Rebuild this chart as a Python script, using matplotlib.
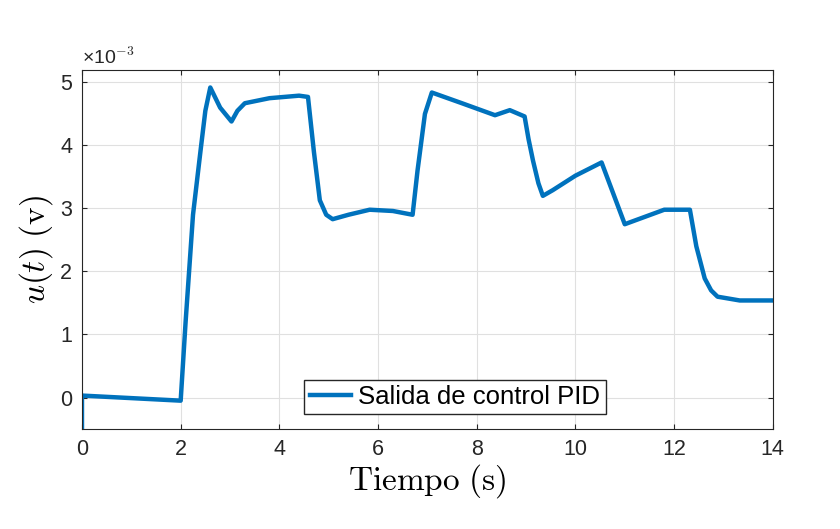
import matplotlib
matplotlib.use("Agg")
import matplotlib.pyplot as plt

t = [0, 0, 0.02, 2.0, 2.1, 2.25, 2.4, 2.5, 2.6, 2.8, 3.03, 3.15, 3.3, 3.8, 4.4, 4.58, 4.7, 4.82, 4.95, 5.08, 5.4, 5.83, 6.3, 6.7,
     6.8, 6.95, 7.09, 7.7, 8.37, 8.67, 8.97, 9.05, 9.14, 9.25, 9.34, 9.54, 10.0, 10.53, 11.0, 11.8, 12.32, 12.45, 12.62, 12.75, 12.88, 13.33, 14.0]
u = [-0.5, 0.03, 0.03, -0.05, 1.2, 2.9, 3.9, 4.55, 4.92, 4.6, 4.38, 4.55, 4.67, 4.75, 4.79, 4.77, 3.9, 3.13, 2.9, 2.83, 2.9, 2.98, 2.96, 2.9,
     3.6, 4.5, 4.84, 4.67, 4.48, 4.56, 4.46, 4.1, 3.76, 3.4, 3.2, 3.29, 3.52, 3.73, 2.75, 2.98, 2.98, 2.4, 1.89, 1.7, 1.6, 1.54, 1.54]

plt.rcParams['font.family'] = 'Liberation Sans'
plt.rcParams['mathtext.fontset'] = 'cm'
fig = plt.figure(figsize=(8.4, 5.29), dpi=100)
ax = fig.add_axes([0.0976, 0.189, 0.8224, 0.679])
ax.plot(t, u, color='#0072BD', lw=3.2, label='Salida de control PID', solid_joinstyle='round')
ax.set_xlim(0, 14)
ax.set_ylim(-0.5, 5.2)
ax.set_xticks(range(0, 15, 2))
ax.set_yticks(range(0, 6))
ax.grid(True, color='#e0e0e0', lw=0.8)
ax.tick_params(labelsize=15.5, direction='in', top=True, right=True, colors='#262626', pad=7)
for s in ax.spines.values():
    s.set_color('#262626')
ax.set_xlabel(r'$\mathrm{Tiempo\ (s)}$', fontsize=24, labelpad=2)
ax.set_ylabel(r'$u(t)\ \mathrm{(v)}$', fontsize=24)
ax.text(0, 1.005, '×10$^{\\mathsf{-3}}$', transform=ax.transAxes, fontsize=14, va='bottom', color='#262626')
leg = ax.legend(loc='center', bbox_to_anchor=(0.54, 0.09), fontsize=18.5, fancybox=False,
                framealpha=1, edgecolor='#262626', handlelength=1.6, borderpad=0.2, handletextpad=0.3)
fig.savefig('out.png', dpi=100)
